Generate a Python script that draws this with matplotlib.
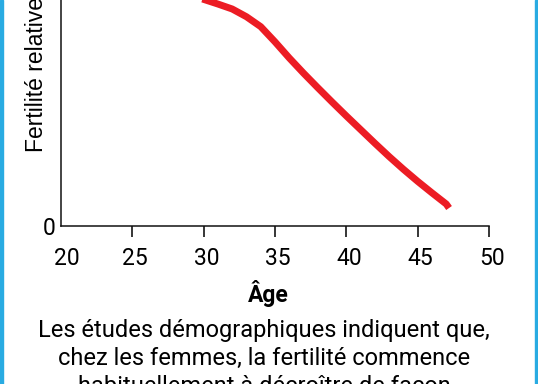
import matplotlib
matplotlib.use("Agg")
import matplotlib.pyplot as plt
import matplotlib.transforms as mtransforms
from matplotlib.patches import Rectangle

# fertility curve (relative units, 0 at the axis)
ages = [28, 29, 30, 31, 32, 33, 34, 35, 36, 37, 38, 39, 40,
        41, 42, 43, 44, 45, 46, 47, 47.2]
fertility = [0.755, 0.745, 0.731, 0.716, 0.700, 0.675, 0.643, 0.594, 0.542,
             0.493, 0.446, 0.400, 0.355, 0.311, 0.267, 0.224, 0.183, 0.144,
             0.107, 0.071, 0.058]

x_ticks = [20, 25, 30, 35, 40, 45, 50]
y_ticks = [0]

y_label = "Fertilité relative"
x_label = "Âge"
caption_lines = ["Les études démographiques indiquent que,",
                 "chez les femmes, la fertilité commence",
                 "habituellement à décroître de façon"]

W, H = 538, 384
fig = plt.figure(figsize=(W / 100, H / 100), dpi=100)

# axes extends above the top edge of the picture (the reference is cropped)
left, right = 61 / W, 489 / W
bottom = 1 - 226 / H
height = (226 + 84) / H
ax = fig.add_axes([left, bottom, right - left, height])

ax.plot(ages, fertility, color="#ec1c24", lw=5,
        solid_capstyle="butt", solid_joinstyle="round")

ax.set_xlim(20, 50)
ax.set_ylim(0, 1)
ax.set_xticks(x_ticks)
ax.set_xticklabels([str(t) for t in x_ticks], family="Roboto", fontsize=16.5)
ax.set_yticks(y_ticks)
ax.set_yticklabels(["0"], family="Roboto", fontsize=16.5)
ax.tick_params(axis="x", direction="out", length=8, width=1.1, pad=7)
ax.tick_params(axis="y", length=0, pad=4)
ax.xaxis.get_major_ticks()[0].tick1line.set_visible(False)

# labels sit a little right of their ticks in the original
shift = mtransforms.ScaledTranslation(3 / 100, 0, fig.dpi_scale_trans)
for lab in ax.get_xticklabels():
    lab.set_transform(lab.get_transform() + shift)
first = ax.get_xticklabels()[0]
first.set_transform(first.get_transform() + mtransforms.ScaledTranslation(3 / 100, 0, fig.dpi_scale_trans))

for s in ["top", "right"]:
    ax.spines[s].set_visible(False)
for s in ["left", "bottom"]:
    ax.spines[s].set_linewidth(1.1)
    ax.spines[s].set_color("#111111")

fig.text(37 / W, 1 - 152 / H, y_label, rotation=90, ha="center", va="bottom",
         family="Liberation Sans", fontsize=16.5)

fig.text(268 / W, 1 - 302 / H, x_label, ha="center", va="baseline",
         family="Roboto", fontweight="bold", fontsize=16.5)

for i, line in enumerate(caption_lines):
    fig.text(264 / W, 1 - (337 + 28 * i) / H, line, ha="center", va="baseline",
             family="Roboto", fontsize=17)

# blue frame on the sides
fig.patches.append(Rectangle((0, 0), 3 / W, 1, transform=fig.transFigure,
                             color="#29abe2", zorder=10))
fig.patches.append(Rectangle((1 - 3 / W, 0), 3 / W, 1, transform=fig.transFigure,
                             color="#29abe2", zorder=10))

fig.savefig("out.png", dpi=100)
